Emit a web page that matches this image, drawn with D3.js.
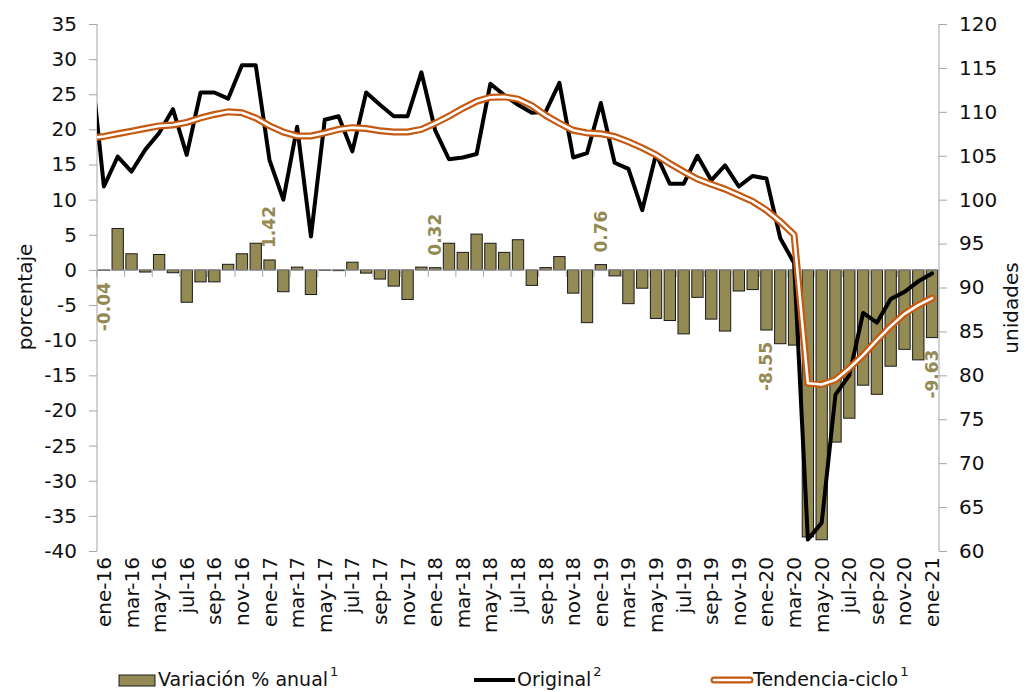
<!DOCTYPE html>
<html>
<head>
<meta charset="utf-8">
<script src="https://cdn.jsdelivr.net/npm/d3@7"></script>
<style>
  body { margin: 0; background: #fff; }
  svg { display: block; font-family: "DejaVu Sans", sans-serif; }
</style>
</head>
<body>
<svg id="chart" width="1030" height="692"></svg>
<script>
/*--- Data ---*/
const mesesAbr = ["ene","feb","mar","abr","may","jun","jul","ago","sep","oct","nov","dic"];
const anios = ["16","17","18","19","20"];
const meses = anios.flatMap(a => mesesAbr.map(m => m + "-" + a)).concat(["ene-21"]);

// Variación % anual (eje izquierdo)
const variacion = [
  -0.04, 5.9, 2.3, -0.3, 2.2, -0.4, -4.6, -1.7, -1.7, 0.8, 2.3, 3.8,
  1.42, -3.1, 0.4, -3.5, -0.05, -0.1, 1.1, -0.45, -1.3, -2.3, -4.2, 0.4,
  0.32, 3.8, 2.5, 5.1, 3.8, 2.5, 4.3, -2.2, 0.33, 1.9, -3.3, -7.5,
  0.76, -0.85, -4.8, -2.6, -6.9, -7.2, -9.1, -3.9, -7.0, -8.7, -3.0, -2.8,
  -8.55, -10.5, -10.7, -38.0, -38.4, -24.5, -21.1, -16.4, -17.7, -13.7, -11.3, -12.8,
  -9.63
];

// Original (eje derecho, unidades)
const original = [
  101.5, 104.9, 103.2, 105.7, 107.6, 110.3, 105.1, 112.2, 112.2, 111.5, 115.3, 115.3,
  104.5, 100.0, 108.3, 95.8, 109.1, 109.5, 105.5, 112.2, 110.8, 109.5, 109.5, 114.5,
  107.9, 104.6, 104.8, 105.2, 113.2, 111.9, 110.8, 109.9, 110.0, 113.3, 104.8, 105.3,
  111.0, 104.2, 103.5, 98.8, 105.2, 101.8, 101.8, 105.0, 102.2, 103.9, 101.5, 102.7,
  102.4, 95.6, 92.8, 61.3, 63.2, 77.8, 80.0, 87.1, 86.0, 88.7, 89.5, 90.7,
  91.6
];

// Tendencia-ciclo (eje derecho)
const tendencia = [
  107.2, 107.5, 107.8, 108.1, 108.4, 108.5, 108.8, 109.3, 109.7, 110.0, 109.9, 109.3,
  108.4, 107.7, 107.25, 107.25, 107.6, 108.0, 108.2, 108.1, 107.85, 107.7, 107.7, 108.0,
  108.7, 109.5, 110.4, 111.2, 111.65, 111.7, 111.45, 110.7, 109.6, 108.7, 107.9, 107.6,
  107.5, 107.2, 106.6, 105.9, 105.1, 104.1, 103.2, 102.35, 101.75, 101.2, 100.5, 99.8,
  98.8, 97.5, 96.0, 79.1, 78.95, 79.5, 80.8, 82.3, 84.0, 85.6, 87.0, 88.0,
  88.8
];

// dic-15: punto previo, solo se ve el tramo recortado junto al eje
const originalPrev = 116.5;
const tendenciaPrev = 107.0;

const ticksIzq = [-40, -35, -30, -25, -20, -15, -10, -5, 0, 5, 10, 15, 20, 25, 30, 35];
const ticksDer = [60, 65, 70, 75, 80, 85, 90, 95, 100, 105, 110, 115, 120];
const mesesEtiqueta = ["ene-16", "ene-17", "ene-18", "ene-19", "ene-20", "ene-21"];

/*--- Layout ---*/
const svg = d3.select("#chart");
const plotL = 97, plotR = 939, plotT = 24, plotB = 551;
const axisColor = "#a6a6a6";
const barColor = "#948a54";
const orange = "#c65911";

const x = d3.scaleBand().domain(meses).range([plotL, plotR])
  .paddingInner(0.18).paddingOuter(0.09);
const cx = d => x(d) + x.bandwidth() / 2;
const yL = d3.scaleLinear().domain([-40, 35]).range([plotB, plotT]);
const yR = d3.scaleLinear().domain([60, 120]).range([plotB, plotT]);

svg.append("defs").append("clipPath").attr("id", "plot-clip")
  .append("rect").attr("x", plotL).attr("y", 0).attr("width", plotR - plotL + 10).attr("height", 692);

/*--- Bars ---*/
svg.append("g").selectAll("rect")
  .data(meses.map((m, i) => ({ m, v: variacion[i] })))
  .join("rect")
  .attr("x", d => x(d.m))
  .attr("width", x.bandwidth())
  .attr("y", d => yL(Math.max(0, d.v)))
  .attr("height", d => Math.abs(yL(d.v) - yL(0)))
  .attr("fill", barColor)
  .attr("stroke", "#1a1a1a")
  .attr("stroke-width", 1);

/*--- Axes ---*/
const axisL = svg.append("g").attr("transform", `translate(${plotL},0)`)
  .call(d3.axisLeft(yL).tickValues(ticksIzq).tickSize(8).tickFormat(d => String(d)));
const axisR = svg.append("g").attr("transform", `translate(${plotR},0)`)
  .call(d3.axisRight(yR).tickValues(ticksDer).tickSize(8).tickFormat(d => String(d)));
[axisL, axisR].forEach(a => {
  a.select(".domain").remove();
  a.selectAll(".tick line").attr("stroke", axisColor);
  a.selectAll(".tick text").attr("font-size", 20).attr("fill", "#111")
    .attr("font-family", "DejaVu Sans, sans-serif");
});
axisL.selectAll(".tick text").attr("x", -20);
axisR.selectAll(".tick text").attr("x", 20);
svg.append("line").attr("x1", plotL).attr("x2", plotL).attr("y1", plotT).attr("y2", plotB)
  .attr("stroke", axisColor);
svg.append("line").attr("x1", plotR).attr("x2", plotR).attr("y1", plotT).attr("y2", plotB)
  .attr("stroke", axisColor);

// category axis at zero, ticks every two months
const xAxis = svg.append("g");
xAxis.append("line").attr("x1", plotL).attr("x2", plotR)
  .attr("y1", yL(0)).attr("y2", yL(0)).attr("stroke", axisColor);
xAxis.selectAll("line.tk")
  .data(meses.filter((m, i) => i % 2 === 0))
  .join("line").attr("class", "tk")
  .attr("x1", d => cx(d) - x.step() / 2).attr("x2", d => cx(d) - x.step() / 2)
  .attr("y1", yL(0)).attr("y2", yL(0) + 7)
  .attr("stroke", axisColor);

svg.append("g").selectAll("text")
  .data(meses.filter((m, i) => i % 2 === 0))
  .join("text")
  .attr("transform", d => `translate(${cx(d)},${plotB + 6}) rotate(-90)`)
  .attr("text-anchor", "end")
  .attr("dy", "0.35em")
  .attr("font-size", 20)
  .attr("fill", "#111")
  .text(d => d);

/*--- Lines ---*/
const prevX = cx(meses[0]) - x.step();
const ptsOriginal = [[prevX, originalPrev]].concat(meses.map((m, i) => [cx(m), original[i]]));
const ptsTendencia = [[prevX, tendenciaPrev]].concat(meses.map((m, i) => [cx(m), tendencia[i]]));
const lineGen = d3.line().x(d => d[0]).y(d => yR(d[1]));

const lines = svg.append("g").attr("clip-path", "url(#plot-clip)");
lines.append("path").attr("d", lineGen(ptsOriginal))
  .attr("fill", "none").attr("stroke", "#000").attr("stroke-width", 4)
  .attr("stroke-linejoin", "round").attr("stroke-linecap", "round");
lines.append("path").attr("d", lineGen(ptsTendencia))
  .attr("fill", "none").attr("stroke", orange).attr("stroke-width", 7)
  .attr("stroke-linejoin", "round").attr("stroke-linecap", "round");
lines.append("path").attr("d", lineGen(ptsTendencia))
  .attr("fill", "none").attr("stroke", "#fff").attr("stroke-width", 2.6)
  .attr("stroke-linejoin", "round").attr("stroke-linecap", "round");

/*--- Data labels ---*/
svg.append("g").selectAll("text")
  .data(mesesEtiqueta)
  .join("text")
  .each(function (m) {
    const v = variacion[meses.indexOf(m)];
    const yy = v >= 0 ? yL(v) - 12 : yL(v) + 12;
    d3.select(this)
      .attr("transform", `translate(${cx(m)},${yy}) rotate(-90)`)
      .attr("text-anchor", v >= 0 ? "start" : "end")
      .attr("dy", "0.35em")
      .attr("font-size", 17)
      .attr("font-weight", "bold")
      .attr("fill", barColor)
      .text(v.toFixed(2));
  });

/*--- Axis titles ---*/
svg.append("text").attr("transform", `translate(25,297) rotate(-90)`)
  .attr("text-anchor", "middle").attr("dy", "0.35em").attr("font-size", 20).attr("fill", "#111")
  .text("porcentaje");
svg.append("text").attr("transform", `translate(1011,308) rotate(-90)`)
  .attr("text-anchor", "middle").attr("dy", "0.35em").attr("font-size", 20).attr("fill", "#111")
  .text("unidades");

/*--- Legend ---*/
const legend = svg.append("g");
const ly = 680;
function legendText(xPos, label, sup) {
  const t = legend.append("text").attr("x", xPos).attr("y", ly + 6)
    .attr("font-size", 19).attr("fill", "#111").text(label);
  const w = t.node().getComputedTextLength();
  legend.append("text").attr("x", xPos + w + 2).attr("y", ly - 4)
    .attr("font-size", 13).attr("fill", "#111").text(sup);
}
legend.append("rect").attr("x", 119).attr("y", ly - 5).attr("width", 36).attr("height", 11)
  .attr("fill", barColor).attr("stroke", "#1a1a1a").attr("stroke-width", 1);
legendText(158, "Variación % anual", "1");

legend.append("line").attr("x1", 474).attr("x2", 515).attr("y1", ly).attr("y2", ly)
  .attr("stroke", "#000").attr("stroke-width", 4);
legendText(517, "Original", "2");

legend.append("line").attr("x1", 714).attr("x2", 750).attr("y1", ly).attr("y2", ly)
  .attr("stroke", orange).attr("stroke-width", 7).attr("stroke-linecap", "round");
legend.append("line").attr("x1", 714).attr("x2", 750).attr("y1", ly).attr("y2", ly)
  .attr("stroke", "#fff").attr("stroke-width", 2.6).attr("stroke-linecap", "round");
legendText(753, "Tendencia-ciclo", "1");
</script>
</body>
</html>
